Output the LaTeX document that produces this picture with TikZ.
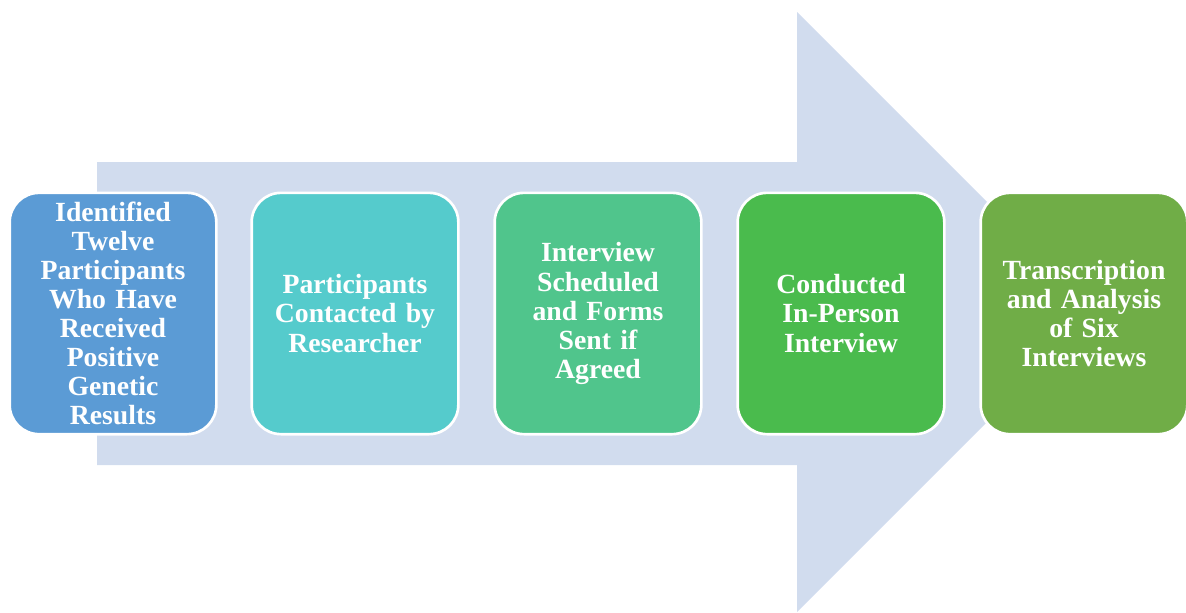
\documentclass[tikz,border=0pt]{standalone}
\usepackage{fontspec}
\setmainfont[WordSpace=0.8]{Liberation Serif}
\definecolor{arrowfill}{HTML}{D1DCEE}
\definecolor{stepA}{HTML}{5B9BD5}
\definecolor{stepB}{HTML}{55CBCC}
\definecolor{stepC}{HTML}{50C58C}
\definecolor{stepD}{HTML}{4ABB4D}
\definecolor{stepE}{HTML}{70AD47}
\begin{document}
\begin{tikzpicture}[x=0.75pt,y=-0.75pt,
  stepbox/.style={draw=white, line width=2pt, rounded corners=22pt,
    minimum width=155pt, minimum height=181pt, inner sep=0pt,
    text=white, align=center, text width=150pt,
    font=\fontsize{20.8}{21.8}\selectfont\bfseries}]
  \useasboundingbox (0,0) rectangle (1186,612);
  % large background arrow
  \fill[arrowfill] (97,162) -- (797,162) -- (797,12) -- (1097,312)
    -- (797,612) -- (797,465) -- (97,465) -- cycle;
  % process steps
  \node[stepbox, fill=stepA] (s1) at (113,313.5)
    {Identified\\Twelve\\Participants\\Who Have\\Received\\Positive\\Genetic\\Results};
  \node[stepbox, fill=stepB] (s2) at (355,313.5)
    {Participants\\Contacted by\\Researcher};
  \node[stepbox, fill=stepC] (s3) at (598,313.5)
    {Interview\\Scheduled\\and Forms\\Sent if\\Agreed};
  \node[stepbox, fill=stepD] (s4) at (841,313.5)
    {Conducted\\In-Person\\Interview};
  \node[stepbox, fill=stepE] (s5) at (1084,313.5)
    {Transcription\\and Analysis\\of Six\\Interviews};
\end{tikzpicture}
\end{document}
